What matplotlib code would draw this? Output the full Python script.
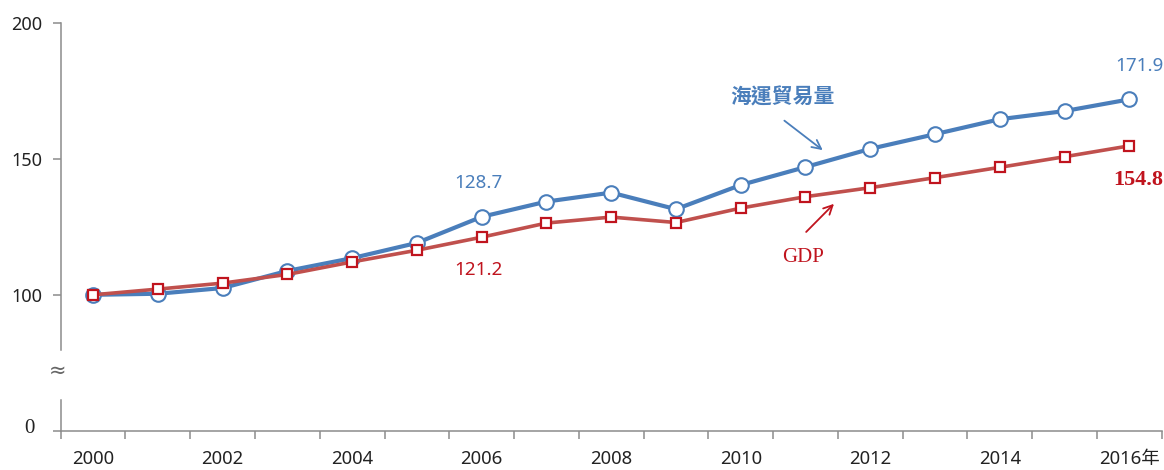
import matplotlib
matplotlib.use("Agg")
import matplotlib.pyplot as plt
import matplotlib.transforms as mtransforms
import numpy as np

years = list(range(2000, 2017))
tick_labels = ["2000", "2002", "2004", "2006", "2008", "2010", "2012", "2014", "2016年"]
trade = [100.0, 100.4, 102.5, 108.8, 113.5, 119.1, 128.7, 134.3, 137.6, 131.5,
         140.4, 147.0, 153.7, 159.1, 164.6, 167.6, 171.9]
gdp = [100.0, 102.1, 104.3, 107.5, 112.1, 116.4, 121.2, 126.4, 128.6, 126.6,
       131.9, 136.1, 139.4, 143.1, 146.9, 150.8, 154.8]

BLUE = "#4A7EBB"
RED_LINE = "#C0504D"
RED_EDGE = "#C0141E"
RED_TXT = "#C0141E"
GREY = "#8C8C8C"
SANS = ["Noto Sans", "Noto Sans CJK TC", "DejaVu Sans"]

plt.rcParams["font.family"] = SANS

W, H = 1164, 470
fig = plt.figure(figsize=(W / 100, H / 100), dpi=100)

x0, x1 = 60.7, 1161.7
def fx(px):
    return px / W
def fy(py):
    return 1 - py / H

ax = fig.add_axes([fx(x0), fy(350), fx(x1 - x0), fy(23) - fy(350)])
axb = fig.add_axes([fx(x0), fy(431), fx(x1 - x0), fy(400) - fy(431)])

xs = np.arange(len(years))

ax.plot(xs, trade, color=BLUE, lw=3.0, marker="o", ms=10.5, mfc="white",
        mec=BLUE, mew=1.5, zorder=2, solid_capstyle="round")
ax.plot(xs, gdp, color=RED_LINE, lw=2.6, marker="s", ms=7.5, mfc="white",
        mec=RED_EDGE, mew=1.6, zorder=3, solid_capstyle="round")
ax.set_xlim(-0.5, len(years) - 0.5)
ax.set_ylim(79.7, 200)
ax.set_yticks([100, 150, 200])
ax.tick_params(axis="y", direction="out", length=6, width=1.1, color=GREY,
               labelsize=13, pad=7, labelcolor="#222222")
ax.set_xticks([])
for s in ["top", "right", "bottom"]:
    ax.spines[s].set_visible(False)
ax.spines["left"].set_color(GREY)
ax.spines["left"].set_linewidth(1.1)
ax.patch.set_alpha(0)

axb.set_xlim(-0.5, len(years) - 0.5)
axb.set_ylim(0, 1)
axb.set_yticks([0])
axb.set_yticklabels(["0"], fontsize=15, color="#222222", family=["Liberation Serif"])
axb.tick_params(axis="y", direction="out", length=6, width=1.1, color=GREY, pad=13)
off = mtransforms.ScaledTranslation(0, 5 / 100, fig.dpi_scale_trans)
for lab in axb.get_yticklabels():
    lab.set_transform(lab.get_transform() + off)
for s in ["top", "right"]:
    axb.spines[s].set_visible(False)
for s in ["left", "bottom"]:
    axb.spines[s].set_color(GREY)
    axb.spines[s].set_linewidth(1.1)
axb.set_xticks(np.arange(-0.5, len(years), 1.0))
axb.set_xticklabels([])
axb.tick_params(axis="x", which="major", direction="out", length=6, width=1.1, color=GREY)
axb.set_xticks(xs[::2], minor=True)
axb.set_xticklabels(tick_labels, minor=True, fontsize=13.3, color="#222222")
axb.tick_params(axis="x", which="minor", length=0, pad=14)
axb.patch.set_alpha(0)
for lab in axb.get_xticklabels(minor=True):
    if "年" in lab.get_text():
        lab.set_family(["Noto Sans", "Noto Sans CJK TC"])

# axis break symbol
fig.text(fx(58), fy(371), "≈", ha="center", va="center", fontsize=15,
         color="#666666", family=["DejaVu Sans"])

# annotations
ax.text(16.15, 184.2, f"{trade[-1]:.1f}", color=BLUE, fontsize=13.5,
        ha="center", va="center")
ax.text(5.95, 141.2, f"{trade[6]:.1f}", color=BLUE, fontsize=13.5,
        ha="center", va="center")
ax.text(5.95, 109.0, f"{gdp[6]:.1f}", color=RED_TXT, fontsize=13.5,
        ha="center", va="center")
ax.text(16.14, 142.3, f"{gdp[-1]:.1f}", color=RED_TXT, fontsize=16,
        ha="center", va="center", family=["Liberation Serif"], weight="bold")
ax.text(10.96, 113.6, "GDP", color=RED_TXT, fontsize=15,
        ha="center", va="center", family=["Liberation Serif"])
ax.text(10.64, 172.8, "海運貿易量", color=BLUE, fontsize=15,
        ha="center", va="center", family=["Noto Sans CJK TC"], weight="bold")
ax.annotate("", xy=(11.3, 152.6), xytext=(10.64, 164.7),
            arrowprops=dict(arrowstyle="->", color=BLUE, lw=1.3,
                            mutation_scale=16))
ax.annotate("", xy=(11.47, 134.2), xytext=(10.98, 122.4),
            arrowprops=dict(arrowstyle="->", color=RED_TXT, lw=1.3,
                            mutation_scale=16))

fig.savefig("out.png", dpi=100)
